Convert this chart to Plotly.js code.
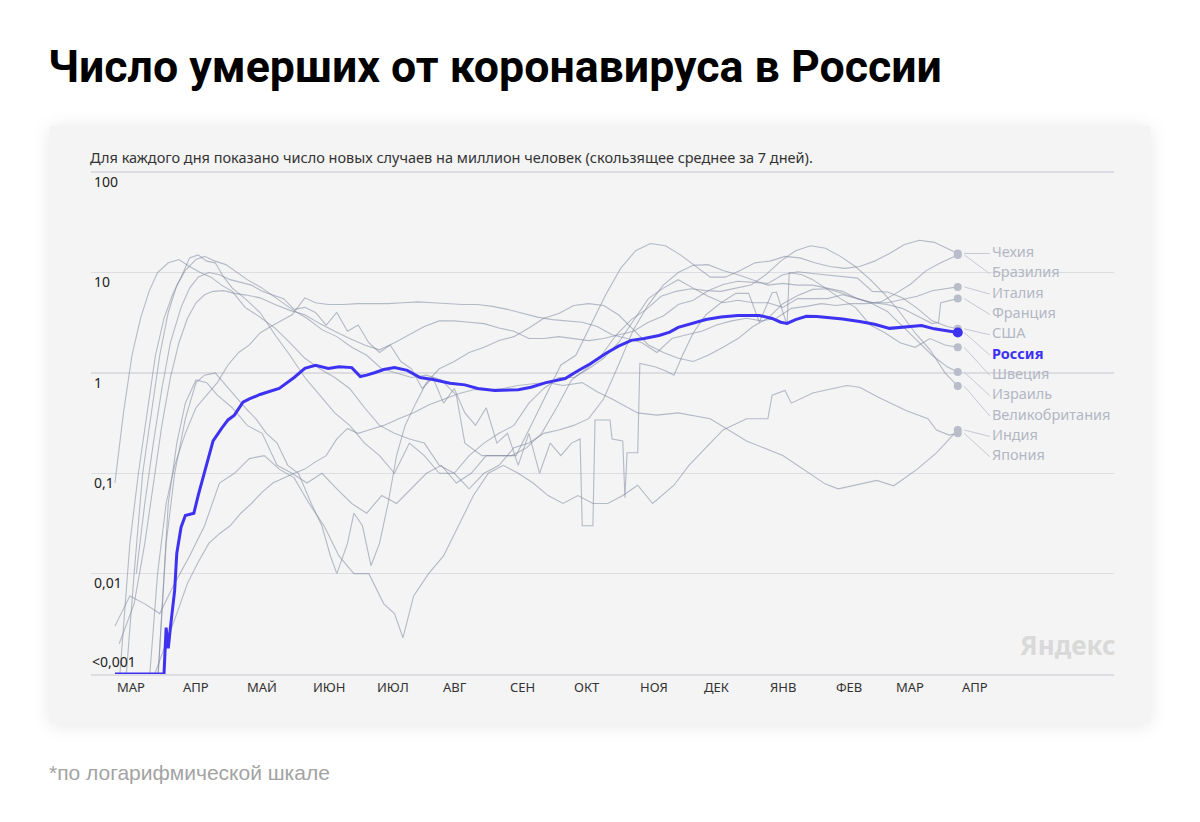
<!DOCTYPE html>
<html><head><meta charset="utf-8">
<script src="https://cdn.plot.ly/plotly-3.0.1.min.js"></script>
<style>
html,body{margin:0;padding:0;background:#fff;width:1200px;height:822px;overflow:hidden}
#card{position:absolute;left:50px;top:126px;width:1100px;height:597px;background:#f4f4f4;box-shadow:0 2px 18px rgba(0,0,0,0.10);}
#chart{position:absolute;left:0;top:0;width:1200px;height:822px;}
</style></head>
<body><div id="card"></div><div id="chart"></div>
<script>
// ---------- DATA (deaths per million, 7-day average) ----------
const monthTicks = ['2020-03-01','2020-04-01','2020-05-01','2020-06-01','2020-07-01','2020-08-01','2020-09-01','2020-10-01','2020-11-01','2020-12-01','2021-01-01','2021-02-01','2021-03-01','2021-04-01'];
const monthLabels = ['МАР','АПР','МАЙ','ИЮН','ИЮЛ','АВГ','СЕН','ОКТ','НОЯ','ДЕК','ЯНВ','ФЕВ','МАР','АПР'];
const yTickVals = [0.01,0.1,1,10,100];
const yTickText = ['0,01','0,1','1','10','100'];
const yFloorValue = 0.001;
const yFloorText = '<0,001';

const russiaDates = ['2020-03-01','2020-03-24','2020-03-25','2020-03-26','2020-03-27','2020-03-29','2020-03-30','2020-04-01','2020-04-03','2020-04-07','2020-04-09','2020-04-12','2020-04-16','2020-04-20','2020-04-23','2020-04-26','2020-04-30','2020-05-03','2020-05-08','2020-05-12','2020-05-17','2020-05-24','2020-05-29','2020-06-03','2020-06-09','2020-06-14','2020-06-20','2020-06-24','2020-06-27','2020-07-01','2020-07-05','2020-07-10','2020-07-16','2020-07-22','2020-07-28','2020-08-05','2020-08-12','2020-08-18','2020-08-26','2020-09-06','2020-09-12','2020-09-19','2020-09-28','2020-10-04','2020-10-10','2020-10-17','2020-10-23','2020-10-29','2020-11-04','2020-11-11','2020-11-16','2020-11-20','2020-11-27','2020-12-03','2020-12-10','2020-12-18','2020-12-28','2021-01-03','2021-01-07','2021-01-10','2021-01-14','2021-01-19','2021-01-24','2021-01-29','2021-02-05','2021-02-13','2021-02-20','2021-02-27','2021-03-05','2021-03-10','2021-03-14','2021-03-20','2021-03-25','2021-03-31'];
const russiaValues = [0.001,0.001,0.0029,0.0018,0.0029,0.0068,0.016,0.029,0.038,0.04,0.06,0.10,0.21,0.28,0.34,0.38,0.51,0.55,0.61,0.65,0.70,0.90,1.11,1.19,1.11,1.15,1.13,0.92,0.95,1.01,1.08,1.13,1.06,0.90,0.86,0.79,0.76,0.70,0.67,0.68,0.72,0.80,0.88,1.05,1.24,1.56,1.85,2.11,2.2,2.36,2.55,2.84,3.15,3.41,3.6,3.74,3.74,3.49,3.2,3.11,3.4,3.66,3.65,3.57,3.45,3.26,3.05,2.78,2.85,2.9,2.97,2.75,2.65,2.53];

const italyDates = ['2020-03-01','2020-03-05','2020-03-09','2020-03-13','2020-03-17','2020-03-21','2020-03-26','2020-03-31','2020-04-05','2020-04-10','2020-04-15','2020-04-20','2020-04-25','2020-05-01','2020-05-08','2020-05-15','2020-05-22','2020-05-29','2020-06-05','2020-06-12','2020-06-19','2020-06-26','2020-07-03','2020-07-10','2020-07-17','2020-07-24','2020-07-31','2020-08-07','2020-08-14','2020-08-21','2020-08-28','2020-09-04','2020-09-11','2020-09-18','2020-09-25','2020-10-02','2020-10-09','2020-10-16','2020-10-23','2020-10-30','2020-11-06','2020-11-13','2020-11-20','2020-11-27','2020-12-04','2020-12-11','2020-12-18','2020-12-25','2021-01-01','2021-01-08','2021-01-15','2021-01-22','2021-01-29','2021-02-05','2021-02-12','2021-02-19','2021-02-26','2021-03-05','2021-03-12','2021-03-19','2021-03-26','2021-03-31'];
const italyValues = [0.08,0.4,1.5,3.5,6.5,10,12.5,13.5,11.5,10,9,7.5,6.5,4.5,3.6,2.8,2,1.4,1.1,0.9,0.7,0.45,0.3,0.25,0.22,0.2,0.12,0.1,0.07,0.1,0.12,0.18,0.2,0.25,0.27,0.3,0.35,0.55,1.2,2.7,4.8,7.5,10,11.8,12,10.5,9.5,8.5,7.5,7.8,7.5,7.5,7,6.5,5.5,5,5,5.4,5.8,6.6,7.0,7.2];

const franceDates = ['2020-03-03','2020-03-08','2020-03-12','2020-03-16','2020-03-20','2020-03-24','2020-03-28','2020-04-01','2020-04-05','2020-04-09','2020-04-13','2020-04-17','2020-04-21','2020-04-25','2020-05-01','2020-05-08','2020-05-15','2020-05-22','2020-05-29','2020-06-05','2020-06-12','2020-06-19','2020-06-26','2020-07-03','2020-07-10','2020-07-17','2020-07-24','2020-07-31','2020-08-07','2020-08-14','2020-08-21','2020-08-28','2020-09-04','2020-09-11','2020-09-18','2020-09-25','2020-10-02','2020-10-09','2020-10-16','2020-10-23','2020-10-30','2020-11-06','2020-11-13','2020-11-20','2020-11-27','2020-12-04','2020-12-11','2020-12-18','2020-12-25','2021-01-01','2021-01-08','2021-01-15','2021-01-22','2021-01-29','2021-02-05','2021-02-12','2021-02-19','2021-02-26','2021-03-05','2021-03-12','2021-03-19','2021-03-22','2021-03-23','2021-03-31'];
const franceValues = [0.0008,0.02,0.1,0.4,1.5,3.5,6,9,14,15,13,12.5,9,7,5.5,4,2.4,1.5,0.9,0.6,0.4,0.3,0.2,0.15,0.1,0.2,0.15,0.1,0.1,0.15,0.2,0.25,0.3,0.5,0.7,0.9,0.9,1.1,1.4,2,3.3,5.5,7,8.5,7,5.8,5,5.3,5,5,4.5,5.5,5.5,5.5,6,5.5,5,4.8,4.4,3.7,3.1,3.2,5.0,5.5];

const ukDates = ['2020-03-06','2020-03-10','2020-03-14','2020-03-18','2020-03-22','2020-03-26','2020-03-30','2020-04-03','2020-04-08','2020-04-12','2020-04-17','2020-04-22','2020-04-27','2020-05-02','2020-05-09','2020-05-16','2020-05-23','2020-05-30','2020-06-06','2020-06-13','2020-06-20','2020-06-27','2020-07-04','2020-07-11','2020-07-18','2020-07-25','2020-08-01','2020-08-08','2020-08-12','2020-08-20','2020-08-27','2020-09-03','2020-09-10','2020-09-17','2020-09-24','2020-10-01','2020-10-08','2020-10-15','2020-10-22','2020-10-29','2020-11-05','2020-11-12','2020-11-19','2020-11-26','2020-12-03','2020-12-10','2020-12-17','2020-12-24','2020-12-31','2021-01-07','2021-01-14','2021-01-21','2021-01-28','2021-02-04','2021-02-11','2021-02-18','2021-02-25','2021-03-04','2021-03-11','2021-03-18','2021-03-25','2021-03-31'];
const ukValues = [0.0008,0.01,0.1,0.4,1.5,4,7.5,10.5,13.5,14.5,13,12,10,8.5,7,5.5,4.3,3.5,2.7,2.3,1.8,1.5,1.1,1,0.9,0.95,0.85,0.6,0.2,0.15,0.15,0.15,0.18,0.25,0.45,0.85,1.1,1.5,2.4,3.4,4.3,5.8,6.5,6.9,6.6,6.5,7,7.5,9.5,13,16.5,18.5,17.5,14.5,11.5,8.5,6,4,2.5,1.7,1.0,0.74];

const czechDates = ['2020-03-21','2020-03-26','2020-03-30','2020-04-03','2020-04-08','2020-04-13','2020-04-18','2020-04-25','2020-05-02','2020-05-09','2020-05-16','2020-05-23','2020-05-30','2020-06-06','2020-06-13','2020-06-20','2020-06-27','2020-07-04','2020-07-11','2020-07-18','2020-07-25','2020-08-01','2020-08-08','2020-08-15','2020-08-22','2020-08-29','2020-09-05','2020-09-12','2020-09-19','2020-09-26','2020-10-03','2020-10-10','2020-10-17','2020-10-24','2020-10-31','2020-11-07','2020-11-14','2020-11-21','2020-11-28','2020-12-05','2020-12-12','2020-12-19','2020-12-26','2021-01-02','2021-01-09','2021-01-16','2021-01-23','2021-01-30','2021-02-06','2021-02-13','2021-02-20','2021-02-27','2021-03-06','2021-03-13','2021-03-20','2021-03-31'];
const czechValues = [0.0008,0.05,0.2,0.5,0.85,0.8,0.6,0.45,0.3,0.25,0.12,0.1,0.08,0.1,0.07,0.05,0.04,0.06,0.05,0.07,0.1,0.12,0.08,0.1,0.15,0.15,0.15,0.3,0.6,1.2,1.5,3,6,11,16.5,19.5,18.5,15,11.5,9,9,10.5,12.5,13,14.5,14,12.5,11.5,11,11.5,13,15.5,19,21,20,15.5];

const usaDates = ['2020-03-03','2020-03-10','2020-03-15','2020-03-19','2020-03-23','2020-03-27','2020-03-31','2020-04-04','2020-04-08','2020-04-12','2020-04-16','2020-04-21','2020-04-26','2020-05-01','2020-05-08','2020-05-15','2020-05-22','2020-05-29','2020-06-05','2020-06-12','2020-06-19','2020-06-26','2020-07-03','2020-07-10','2020-07-17','2020-07-24','2020-07-31','2020-08-07','2020-08-14','2020-08-21','2020-08-28','2020-09-04','2020-09-11','2020-09-18','2020-09-25','2020-10-02','2020-10-09','2020-10-16','2020-10-23','2020-10-30','2020-11-06','2020-11-13','2020-11-20','2020-11-27','2020-12-04','2020-12-11','2020-12-18','2020-12-25','2021-01-01','2021-01-08','2021-01-15','2021-01-22','2021-01-29','2021-02-05','2021-02-12','2021-02-19','2021-02-26','2021-03-05','2021-03-12','2021-03-19','2021-03-26','2021-03-31'];
const usaValues = [0.002,0.005,0.02,0.08,0.3,0.9,2,3.5,5,6,6.5,6.6,6.2,6,5.6,4.8,4.2,3.8,3.1,2.6,2.2,1.9,1.7,2,2.4,2.9,3.3,3.3,3.2,3.1,2.8,2.6,2.2,2.2,2.3,2.2,2.1,2.2,2.4,2.6,3.2,3.7,4.8,5.3,6.6,7.6,8.2,8,7.8,9.5,10.2,9.8,9.5,9.2,8.8,6.5,6.4,5.6,4.4,3.3,2.9,2.75];

const brazilDates = ['2020-03-17','2020-03-21','2020-03-25','2020-03-29','2020-04-03','2020-04-08','2020-04-13','2020-04-18','2020-04-23','2020-04-28','2020-05-03','2020-05-08','2020-05-13','2020-05-18','2020-05-23','2020-05-29','2020-06-03','2020-06-09','2020-06-16','2020-06-23','2020-06-30','2020-07-07','2020-07-14','2020-07-21','2020-07-28','2020-08-04','2020-08-11','2020-08-18','2020-08-25','2020-09-01','2020-09-08','2020-09-15','2020-09-22','2020-09-29','2020-10-06','2020-10-13','2020-10-20','2020-10-27','2020-11-03','2020-11-10','2020-11-17','2020-11-24','2020-12-01','2020-12-08','2020-12-15','2020-12-22','2020-12-29','2021-01-05','2021-01-12','2021-01-19','2021-01-26','2021-02-02','2021-02-09','2021-02-16','2021-02-23','2021-03-02','2021-03-09','2021-03-16','2021-03-23','2021-03-31'];
const brazilValues = [0.0008,0.01,0.05,0.12,0.25,0.45,0.6,0.8,1.2,1.6,1.9,2.5,2.9,3.3,3.8,5.6,5.0,4.8,4.8,4.9,4.9,4.9,5.0,5.1,5.0,4.9,4.8,4.8,4.6,4.3,3.9,3.6,3.4,3.3,3.2,2.9,2.4,2.2,2.0,1.6,2.2,2.4,2.6,3,3.3,3.5,3.3,3.5,4.4,4.6,4.9,4.7,4.9,4.9,5.1,6.2,7.7,10.4,12.5,15.0];

const swedenDates = ['2020-03-11','2020-03-15','2020-03-19','2020-03-23','2020-03-27','2020-04-01','2020-04-05','2020-04-09','2020-04-14','2020-04-19','2020-04-24','2020-04-29','2020-05-04','2020-05-09','2020-05-14','2020-05-19','2020-05-24','2020-05-29','2020-06-03','2020-06-08','2020-06-13','2020-06-18','2020-06-23','2020-06-28','2020-07-03','2020-07-08','2020-07-13','2020-07-18','2020-07-23','2020-07-28','2020-08-02','2020-08-07','2020-08-12','2020-08-17','2020-08-22','2020-08-27','2020-09-01','2020-09-06','2020-09-11','2020-09-16','2020-09-21','2020-09-26','2020-10-01','2020-10-05','2020-10-06','2020-10-11','2020-10-12','2020-10-19','2020-10-20','2020-10-25','2020-10-26','2020-10-27','2020-11-01','2020-11-02','2020-11-09','2020-11-14','2020-11-18','2020-11-22','2020-11-27','2020-12-03','2020-12-10','2020-12-17','2020-12-23','2020-12-28','2021-01-03','2021-01-05','2021-01-10','2021-01-11','2021-01-17','2021-01-22','2021-01-28','2021-02-04','2021-02-11','2021-02-18','2021-02-25','2021-03-04','2021-03-11','2021-03-18','2021-03-25','2021-03-31'];
const swedenValues = [0.01,0.05,0.2,0.7,2,4.5,7,9,10,9.5,8.5,8,7.5,6.5,6,5.5,4.3,4.5,4,3,4,2.6,3,2,1.6,1.9,1.3,1.1,0.7,0.9,0.5,0.7,0.4,0.3,0.45,0.2,0.25,0.12,0.25,0.1,0.2,0.15,0.2,0.22,0.03,0.03,0.34,0.34,0.22,0.21,0.057,0.16,0.16,1.24,1.15,1.05,0.95,1.5,2.5,3.8,5,6.2,6.2,3.2,6.3,6.4,3.0,10,9.5,8.5,7,5.5,4.5,3,2.5,2,1.8,2.2,1.9,1.8];

const israelDates = ['2020-03-21','2020-03-25','2020-03-29','2020-04-03','2020-04-08','2020-04-12','2020-04-17','2020-04-21','2020-04-26','2020-05-01','2020-05-06','2020-05-11','2020-05-16','2020-05-21','2020-05-26','2020-06-01','2020-06-06','2020-06-10','2020-06-13','2020-06-18','2020-06-21','2020-06-25','2020-06-29','2020-07-03','2020-07-07','2020-07-11','2020-07-15','2020-07-20','2020-07-25','2020-07-31','2020-08-07','2020-08-14','2020-08-21','2020-08-28','2020-09-04','2020-09-11','2020-09-18','2020-09-25','2020-10-02','2020-10-09','2020-10-16','2020-10-23','2020-10-30','2020-11-06','2020-11-13','2020-11-20','2020-11-27','2020-12-04','2020-12-11','2020-12-18','2020-12-25','2021-01-01','2021-01-08','2021-01-15','2021-01-22','2021-01-29','2021-02-05','2021-02-12','2021-02-19','2021-02-26','2021-03-05','2021-03-12','2021-03-19','2021-03-26','2021-03-31'];
const israelValues = [0.0008,0.02,0.1,0.35,0.8,0.95,1.0,0.8,0.6,0.45,0.35,0.25,0.2,0.12,0.1,0.05,0.03,0.015,0.01,0.02,0.04,0.03,0.012,0.02,0.05,0.15,0.3,0.5,0.8,1.1,1.3,1.6,1.8,2.1,2.3,2.8,3.5,3.9,4.7,4.9,4.7,3.8,2.7,1.9,1.6,1.4,1.3,1.5,1.8,2.2,2.9,3.5,4.9,5.9,6.8,6.9,6.2,5.5,4.9,4.1,2.9,2.1,1.5,1.15,1.02];

const indiaDates = ['2020-03-18','2020-03-25','2020-03-30','2020-04-04','2020-04-09','2020-04-14','2020-04-19','2020-04-24','2020-04-29','2020-05-04','2020-05-09','2020-05-14','2020-05-19','2020-05-24','2020-05-29','2020-06-03','2020-06-08','2020-06-13','2020-06-18','2020-06-23','2020-06-28','2020-07-05','2020-07-12','2020-07-19','2020-07-26','2020-08-02','2020-08-09','2020-08-16','2020-08-23','2020-08-30','2020-09-06','2020-09-13','2020-09-20','2020-09-27','2020-10-06','2020-10-13','2020-10-20','2020-11-01','2020-11-10','2020-11-20','2020-12-05','2020-12-22','2021-01-08','2021-01-28','2021-02-03','2021-02-21','2021-03-01','2021-03-12','2021-03-21','2021-03-31'];
const indiaValues = [0.0008,0.002,0.004,0.008,0.013,0.02,0.025,0.03,0.04,0.05,0.065,0.08,0.09,0.1,0.11,0.13,0.15,0.22,0.28,0.25,0.27,0.3,0.35,0.4,0.48,0.55,0.62,0.68,0.68,0.7,0.75,0.78,0.8,0.75,0.8,0.65,0.55,0.4,0.38,0.4,0.35,0.21,0.15,0.078,0.07,0.085,0.075,0.11,0.16,0.27];

const japanDates = ['2020-03-01','2020-03-08','2020-03-15','2020-03-22','2020-03-29','2020-04-05','2020-04-12','2020-04-19','2020-04-26','2020-05-03','2020-05-10','2020-05-17','2020-05-24','2020-05-31','2020-06-07','2020-06-14','2020-06-21','2020-06-28','2020-07-05','2020-07-10','2020-07-14','2020-07-19','2020-07-26','2020-08-02','2020-08-09','2020-08-16','2020-08-23','2020-08-30','2020-09-06','2020-09-13','2020-09-20','2020-09-27','2020-10-04','2020-10-11','2020-10-18','2020-10-25','2020-11-01','2020-11-08','2020-11-18','2020-11-25','2020-12-05','2020-12-11','2020-12-22','2021-01-01','2021-01-03','2021-01-09','2021-01-12','2021-01-22','2021-02-07','2021-02-13','2021-02-22','2021-03-07','2021-03-17','2021-03-21','2021-03-27','2021-03-31'];
const japanValues = [0.003,0.006,0.005,0.004,0.008,0.015,0.03,0.08,0.1,0.14,0.15,0.11,0.09,0.05,0.03,0.015,0.01,0.01,0.005,0.004,0.0023,0.006,0.01,0.015,0.03,0.06,0.1,0.12,0.1,0.08,0.06,0.05,0.06,0.05,0.05,0.06,0.076,0.05,0.076,0.12,0.2,0.27,0.35,0.35,0.6,0.67,0.5,0.63,0.75,0.72,0.57,0.42,0.35,0.27,0.24,0.25];

const countryNames = ['Чехия','Бразилия','Италия','Франция','США','Россия','Швеция','Израиль','Великобритания','Индия','Япония'];
const countryDates = [czechDates, brazilDates, italyDates, franceDates, usaDates, russiaDates, swedenDates, israelDates, ukDates, indiaDates, japanDates];
const countryValues = [czechValues, brazilValues, italyValues, franceValues, usaValues, russiaValues, swedenValues, israelValues, ukValues, indiaValues, japanValues];
const highlight = 'Россия';

// ---------- STYLE ----------
const GRAY = 'rgba(128,136,160,0.55)';
const DOT = '#b9bdc9';
const LABEL = '#b3b7c4';
const BLUE = '#3d32f2';
const FONT = 'Noto Sans, Open Sans, sans-serif';
const X_RANGE = ['2020-02-18 19:00','2021-06-12 05:00'];

function addDays(d, n) {
  const t = new Date(d + 'T00:00:00Z'); t.setUTCDate(t.getUTCDate() + n);
  return t.toISOString().slice(0, 10);
}

const traces = [];
countryNames.forEach((name, i) => {
  if (name === highlight) return;
  traces.push({type:'scatter', mode:'lines', x: countryDates[i], y: countryValues[i],
    line:{color:GRAY, width:1.1}, hoverinfo:'skip', showlegend:false});
});

// labels sorted by end value
const ends = countryNames.map((n, i) => ({name:n, date: countryDates[i][countryDates[i].length-1], val: countryValues[i][countryValues[i].length-1]}));
const sorted = ends.slice().sort((a, b) => b.val - a.val);
const topLog = Math.log10(sorted[0].val);
const step = 0.2025;
const labelDate = '2021-04-16';
sorted.forEach((e, k) => {
  e.labelVal = Math.pow(10, topLog - step * k);
  traces.push({type:'scatter', mode:'lines', x:[addDays(e.date, 3), addDays(labelDate, -1)], y:[e.val, e.labelVal],
    line:{color:'#c6c9d3', width:1}, hoverinfo:'skip', showlegend:false, cliponaxis:false});
});

// Russia line
const ri = countryNames.indexOf(highlight);
traces.push({type:'scatter', mode:'lines', x: countryDates[ri], y: countryValues[ri],
  line:{color:BLUE, width:3}, hoverinfo:'skip', showlegend:false});

// end dots
const others = ends.filter(e => e.name !== highlight);
traces.push({type:'scatter', mode:'markers', x: others.map(e => e.date), y: others.map(e => e.val),
  marker:{color:DOT, size:8}, hoverinfo:'skip', showlegend:false, cliponaxis:false});
const re = ends.find(e => e.name === highlight);
traces.push({type:'scatter', mode:'markers', x:[re.date], y:[re.val],
  marker:{color:BLUE, size:10}, hoverinfo:'skip', showlegend:false, cliponaxis:false});

// labels
const otherLabels = sorted.filter(e => e.name !== highlight);
traces.push({type:'scatter', mode:'text', x: otherLabels.map(() => labelDate), y: otherLabels.map(e => e.labelVal),
  text: otherLabels.map(e => e.name), textposition:'middle right',
  textfont:{family:FONT, size:14.5, color:LABEL}, hoverinfo:'skip', showlegend:false, cliponaxis:false});
const rl = sorted.find(e => e.name === highlight);
traces.push({type:'scatter', mode:'text', x:[labelDate], y:[rl.labelVal], text:[rl.name], textposition:'middle right',
  textfont:{family:FONT, size:14.5, color:BLUE, weight:700}, hoverinfo:'skip', showlegend:false, cliponaxis:false});

// month labels, left-aligned at the start of each month (placed through the x axis)
const monthAnnotations = monthTicks.map((d, i) => ({
  text: monthLabels[i], xref:'x', yref:'paper', x: d, y:0, xanchor:'left', yanchor:'middle',
  xshift:0, yshift:-13, showarrow:false, font:{family:FONT, size:13, color:'#333'}
}));

const layout = {
  width:1200, height:822,
  margin:{l:91, r:86, t:171, b:148},
  paper_bgcolor:'rgba(0,0,0,0)', plot_bgcolor:'rgba(0,0,0,0)',
  showlegend:false,
  title:{text:'Число умерших от коронавируса в России', xref:'container', yref:'container',
    x:48/1200, xanchor:'left', y:1-66/822, yanchor:'middle',
    font:{family:'Roboto, sans-serif', size:44.7, weight:700, color:'#000'}},
  xaxis:{type:'date', range:X_RANGE, tickvals: monthTicks, showticklabels:false, ticks:'', showgrid:false, zeroline:false,
    showline:true, linecolor:'#dcdce1', linewidth:2, automargin:false, fixedrange:true},
  yaxis:{type:'log', range:[-3, 2.012], tickvals: yTickVals, ticktext: yTickText, ticklabelposition:'inside bottom',
    ticks:'', showgrid:true, gridcolor:'#dcdce1', gridwidth:1.5, zeroline:false, showline:false,
    tickfont:{family:FONT, size:14, color:'#222'}, automargin:false, fixedrange:true},
  annotations:[
    {text:'Для каждого дня показано число новых случаев на миллион человек (скользящее среднее за 7 дней).',
      xref:'paper', yref:'paper', x:0, y:1, xanchor:'left', yanchor:'middle', xshift:-3, yshift:14, showarrow:false,
      font:{family:FONT, size:14.5, color:'#333'}},
    {text: yFloorText, xref:'paper', yref:'y', x:0, y:Math.log10(yFloorValue), xanchor:'left', yanchor:'bottom',
      xshift:-1, yshift:1, showarrow:false, font:{family:FONT, size:14, color:'#222'}},
    {text:'Яндекс', xref:'paper', yref:'paper', x:1, y:0, xanchor:'right', yanchor:'middle', xshift:4, yshift:29, showarrow:false,
      font:{family:FONT, size:26, weight:700, color:'#d9d9d9'}},
    {text:'*по логарифмической шкале', xref:'paper', yref:'paper', x:0, y:0, xanchor:'left', yanchor:'middle',
      xshift:-44, yshift:-98, showarrow:false, font:{family:'Liberation Sans, Arial, sans-serif', size:21, color:'#a3a3a3'}}
  ].concat(monthAnnotations)
};

Plotly.newPlot('chart', traces, layout, {staticPlot:true, displayModeBar:false});
</script></body></html>
